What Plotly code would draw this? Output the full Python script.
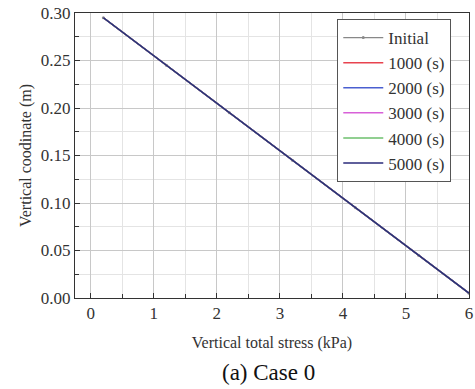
import plotly.graph_objects as go

# Data (all time steps overlap)
depth_z = [0.295, 0.245, 0.195, 0.145, 0.095, 0.045, 0.005]
stress_initial = [0.20, 1.20, 2.20, 3.20, 4.20, 5.20, 6.00]
stress_1000 = [0.20, 1.20, 2.20, 3.20, 4.20, 5.20, 6.00]
stress_2000 = [0.20, 1.20, 2.20, 3.20, 4.20, 5.20, 6.00]
stress_3000 = [0.20, 1.20, 2.20, 3.20, 4.20, 5.20, 6.00]
stress_4000 = [0.20, 1.20, 2.20, 3.20, 4.20, 5.20, 6.00]
stress_5000 = [0.20, 1.20, 2.20, 3.20, 4.20, 5.20, 6.00]

series_names = ["Initial", "1000 (s)", "2000 (s)", "3000 (s)", "4000 (s)", "5000 (s)"]
series_vals = [stress_initial, stress_1000, stress_2000, stress_3000, stress_4000, stress_5000]
series_colors = ["#888888", "#e8434f", "#4a5fd0", "#d860d8", "#6cbf6c", "#2a2a7a"]

x_ticks = [0, 1, 2, 3, 4, 5, 6]
y_ticks = [0.00, 0.05, 0.10, 0.15, 0.20, 0.25, 0.30]

FONT = "Liberation Serif"

fig = go.Figure()
for name, vals, col in zip(series_names, series_vals, series_colors):
    if name == "Initial":
        fig.add_trace(go.Scatter(x=vals, y=depth_z, name=name, mode="lines+markers",
                                 line=dict(color=col, width=1.2),
                                 marker=dict(size=3, color=col)))
    else:
        fig.add_trace(go.Scatter(x=vals, y=depth_z, name=name, mode="lines",
                                 line=dict(color=col, width=1.5)))

axis_common = dict(
    showline=True, linecolor="#333333", linewidth=1, mirror=True,
    ticks="inside", ticklen=5, tickcolor="#333333",
    showgrid=True, gridcolor="#c8c8c8", gridwidth=1,
    zeroline=False, automargin=False,
    tickfont=dict(family=FONT, size=17, color="#333333"),
)

fig.update_xaxes(
    range=[-0.25, 6.0], tickvals=x_ticks, ticktext=[str(v) for v in x_ticks],
    minor=dict(dtick=0.5, showgrid=True, gridcolor="#e4e4e4", ticks="inside",
               ticklen=4, tickcolor="#333333"),
    title=dict(text="Vertical total stress (kPa)", font=dict(family=FONT, size=16, color="#333333"),
               standoff=14),
    **axis_common,
)
fig.update_yaxes(
    range=[0, 0.30], tickvals=y_ticks, ticktext=[f"{v:.2f}" for v in y_ticks],
    minor=dict(dtick=0.025, showgrid=True, gridcolor="#e4e4e4", ticks="inside",
               ticklen=4, tickcolor="#333333"),
    title=dict(text="Vertical coodinate (m)", font=dict(family=FONT, size=16, color="#333333"),
               standoff=5),
    **axis_common,
)

fig.add_annotation(text="(a) Case 0", xref="paper", yref="paper", x=0.49, y=-0.21,
                   xanchor="center", yanchor="top", showarrow=False,
                   font=dict(family=FONT, size=23, color="#111111"))

fig.update_layout(
    width=475, height=389,
    margin=dict(l=75, r=6, t=13, b=91),
    paper_bgcolor="white", plot_bgcolor="white",
    font=dict(family=FONT, color="#333333"),
    legend=dict(x=0.955, y=0.979, xanchor="right", yanchor="top",
                bgcolor="white", bordercolor="#555555", borderwidth=1,
                font=dict(family=FONT, size=17, color="#333333"),
                tracegroupgap=0, itemwidth=40),
    showlegend=True,
)

fig.write_html("out.html", config={"displayModeBar": False},
               post_script="document.body.style.margin='0';document.body.style.overflow='hidden';")
